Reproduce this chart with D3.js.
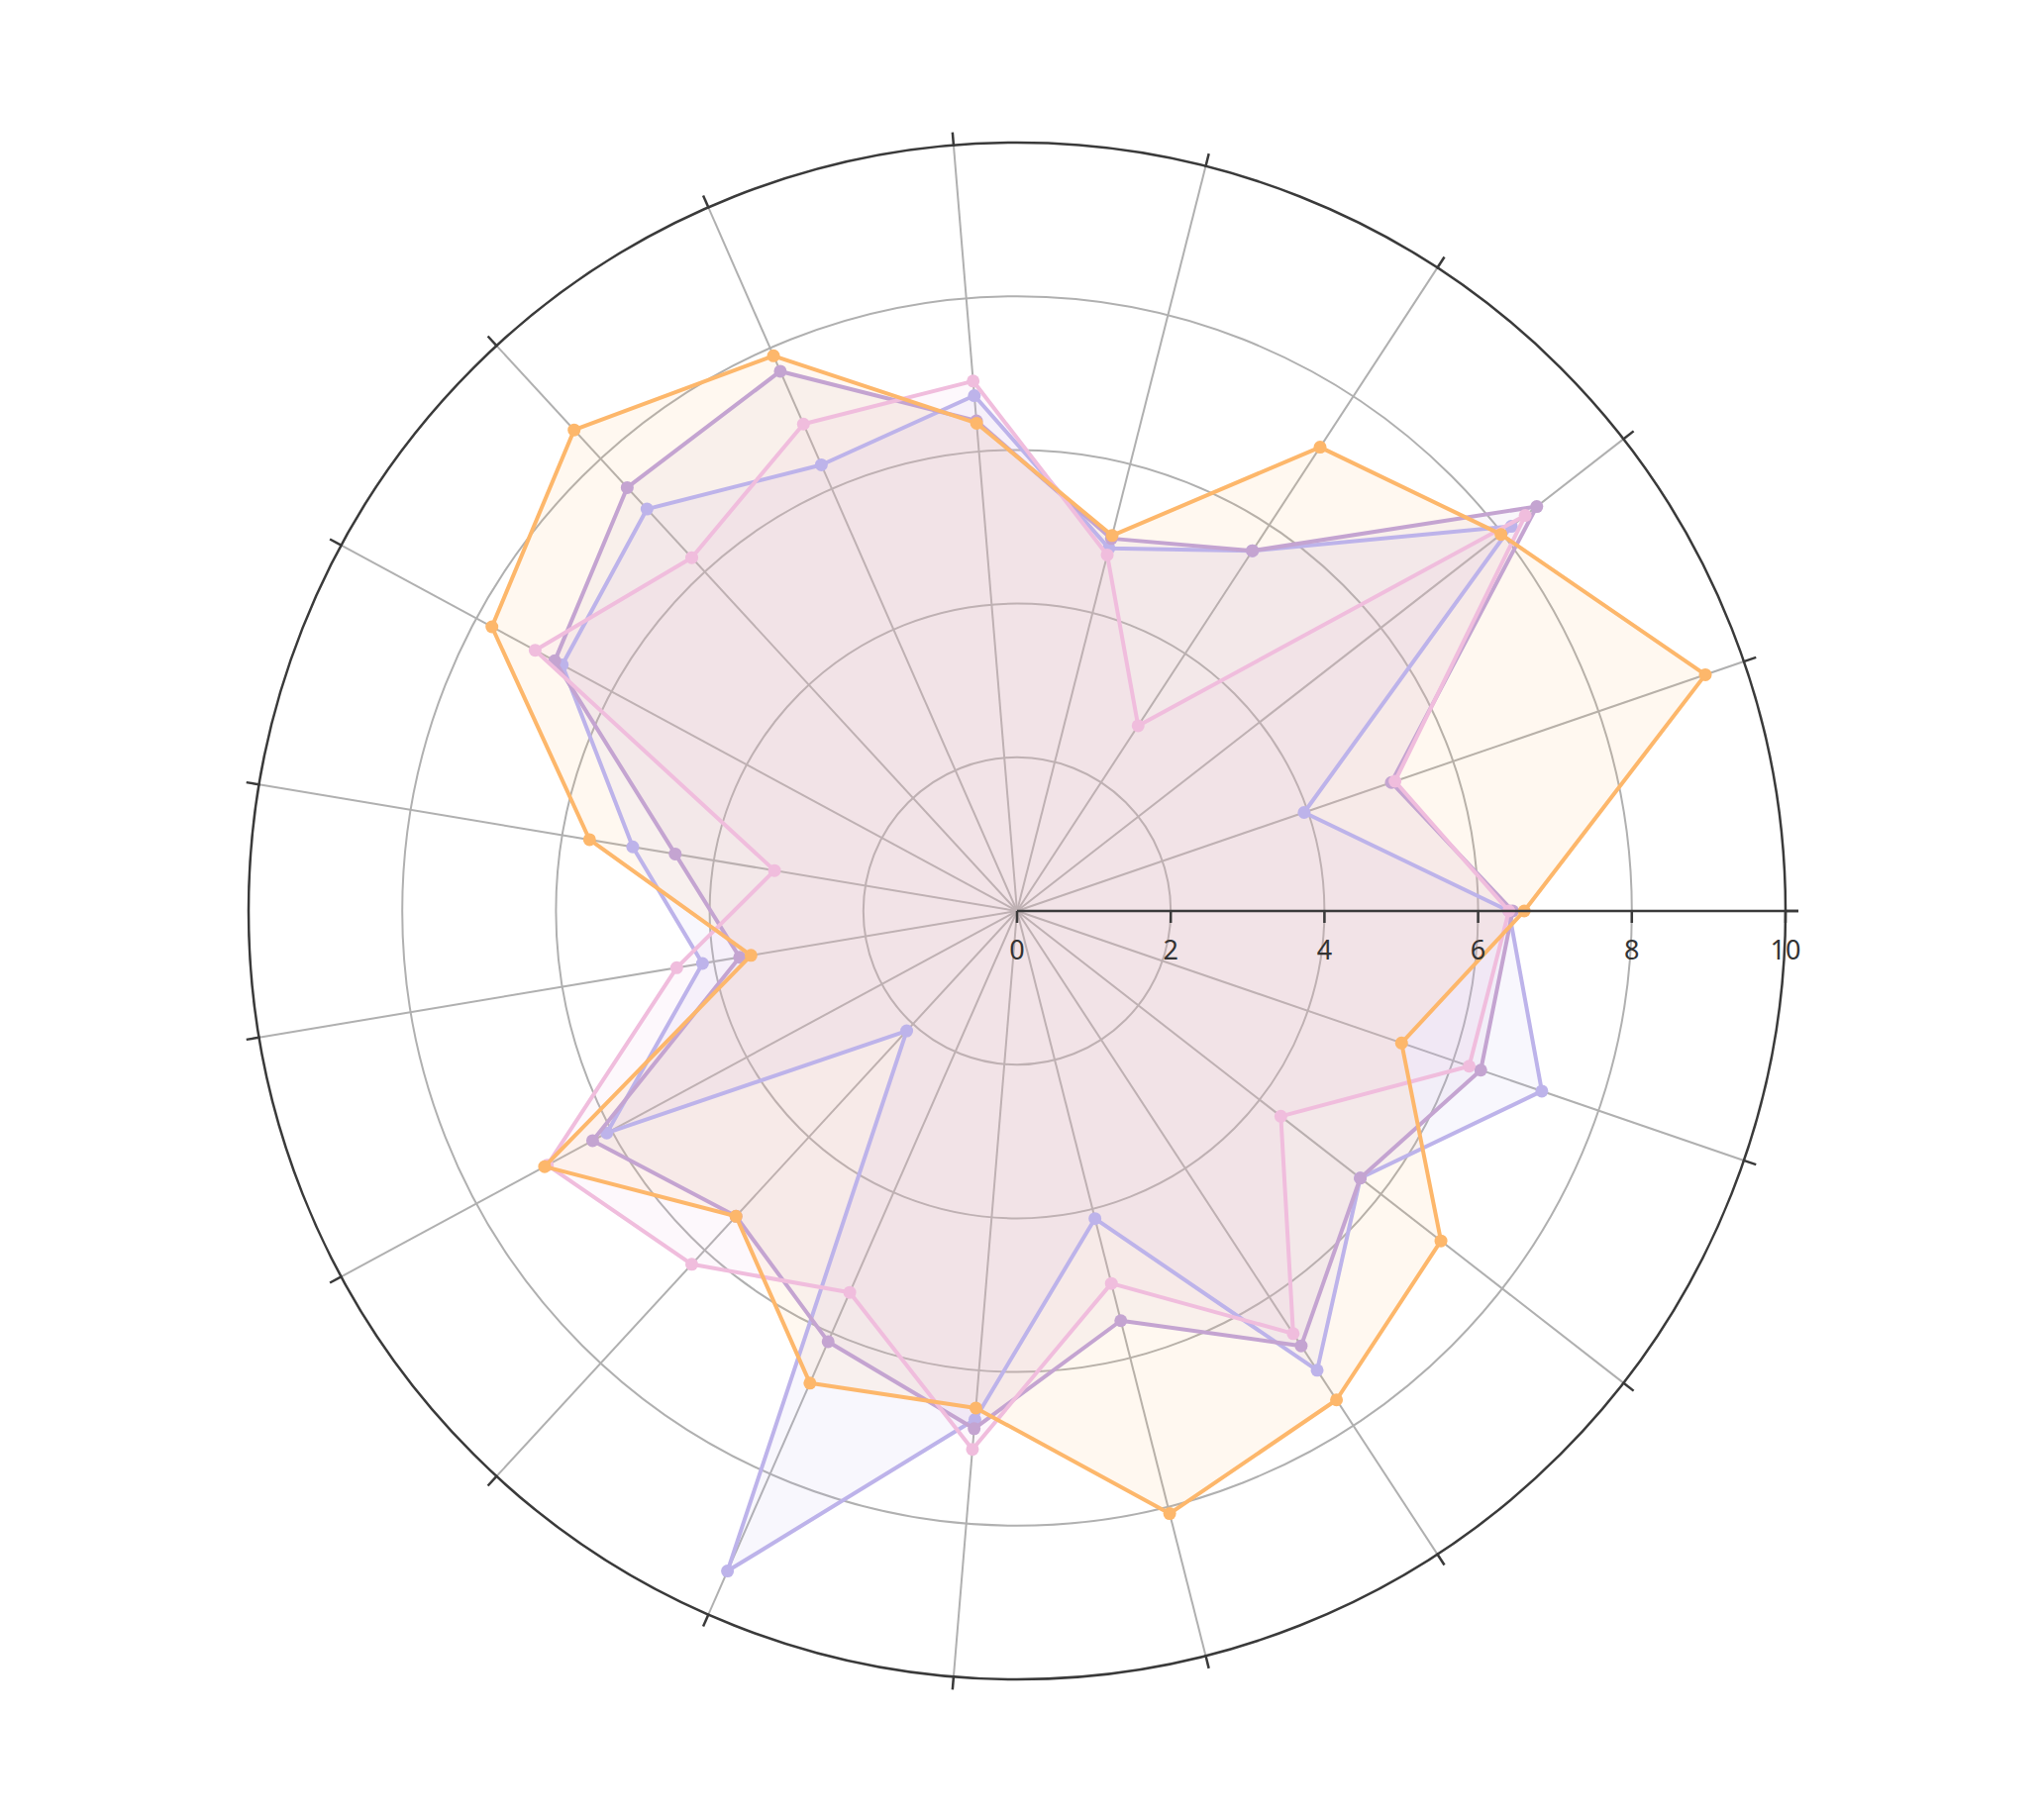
<!DOCTYPE html>
<head>
    <meta charset="UTF-8" />
    <style>
        body {
            margin: 0;
            padding: 0;
            background: #fff;
            font-family: "Noto Sans", sans-serif;
        }
        .grid {
            fill: none;
            stroke: #b0b0b0;
            stroke-width: 2px;
        }
        .axis-line {
            stroke: #3a3a3a;
            stroke-width: 2.5px;
            fill: none;
        }
        .tick-label {
            fill: #333;
            font-size: 27px;
        }
    </style>
    <title>Radar</title>
</head>

<svg width="2064" height="1836"></svg>
<script src="https://d3js.org/d3.v7.min.js"></script>

<script>
    // 19 spokes, counter-clockwise from 3 o'clock
    const categories = ["c1", "c2", "c3", "c4", "c5", "c6", "c7", "c8", "c9", "c10",
        "c11", "c12", "c13", "c14", "c15", "c16", "c17", "c18", "c19"]
    const radiusTicks = [0, 2, 4, 6, 8, 10]

    const lavender = [6.4, 3.95, 8.15, 5.6, 4.87, 6.73, 6.34, 7.11, 6.73, 5.07,
        4.15, 6.07, 2.12, 9.38, 6.64, 4.13, 7.14, 5.66, 7.22]
    const mauve = [6.45, 5.15, 8.57, 5.6, 5.0, 6.4, 7.67, 7.49, 6.84, 4.51,
        3.66, 6.28, 5.4, 6.12, 6.76, 5.5, 6.76, 5.66, 6.38]
    const pink = [6.4, 5.2, 8.38, 2.88, 4.78, 6.92, 6.92, 6.25, 7.13, 3.2,
        4.49, 6.95, 6.25, 5.42, 7.03, 5.0, 6.57, 4.35, 6.22]
    const orange = [6.6, 9.47, 7.98, 7.21, 5.04, 6.37, 7.89, 8.51, 7.77, 5.64,
        3.51, 6.99, 5.4, 6.71, 6.49, 8.09, 7.6, 6.99, 5.29]

    const seriesColors = ["#bdb3ea", "#c4a4d1", "#f0bddd", "#fdb76b"]
    const series = [lavender, mauve, pink, orange]

    const svg = d3.select("svg")
    const cx = 1027, cy = 920, R = 776

    const r = d3.scaleLinear().domain([0, 10]).range([0, R])
    // d3 radial angle: 0 = up, clockwise. Spoke 0 points right, going counter-clockwise
    const angle = d3.scaleLinear().domain([0, categories.length]).range([Math.PI / 2, Math.PI / 2 - 2 * Math.PI])

    const g = svg.append("g").attr("transform", `translate(${cx},${cy})`)

    // grid circles
    g.selectAll(".ring")
        .data(radiusTicks.filter(d => d > 0 && d < 10))
        .enter().append("circle")
        .attr("class", "grid")
        .attr("r", d => r(d))

    // spokes
    g.selectAll(".spoke")
        .data(categories)
        .enter().append("line")
        .attr("class", "grid")
        .attr("x1", 0).attr("y1", 0)
        .attr("x2", (d, i) => r(10) * Math.sin(angle(i)))
        .attr("y2", (d, i) => -r(10) * Math.cos(angle(i)))

    // series areas + lines
    const area = d3.areaRadial()
        .angle((d, i) => angle(i))
        .innerRadius(0)
        .outerRadius(d => r(d))
        .curve(d3.curveLinearClosed)

    const line = d3.lineRadial()
        .angle((d, i) => angle(i))
        .radius(d => r(d))
        .curve(d3.curveLinearClosed)

    series.forEach((values, si) => {
        g.append("path")
            .attr("d", line(values))
            .attr("fill", seriesColors[si])
            .attr("fill-opacity", 0.1)
            .attr("stroke", "none")
    })

    series.forEach((values, si) => {
        const sg = g.append("g")
        sg.append("path")
            .attr("d", line(values))
            .attr("fill", "none")
            .attr("stroke", seriesColors[si])
            .attr("stroke-width", 4)
            .attr("stroke-linejoin", "round")

        sg.selectAll("circle")
            .data(values)
            .enter().append("circle")
            .attr("cx", (d, i) => r(d) * Math.sin(angle(i)))
            .attr("cy", (d, i) => -r(d) * Math.cos(angle(i)))
            .attr("r", 6.5)
            .attr("fill", seriesColors[si])
    })

    // outer circle + angular ticks
    g.append("circle")
        .attr("class", "axis-line")
        .attr("r", r(10))

    g.selectAll(".atick")
        .data(categories)
        .enter().append("line")
        .attr("class", "axis-line")
        .attr("x1", (d, i) => (r(10) - 1) * Math.sin(angle(i)))
        .attr("y1", (d, i) => -(r(10) - 1) * Math.cos(angle(i)))
        .attr("x2", (d, i) => (r(10) + 13) * Math.sin(angle(i)))
        .attr("y2", (d, i) => -(r(10) + 13) * Math.cos(angle(i)))

    // radius axis
    g.append("line")
        .attr("class", "axis-line")
        .attr("x1", 0).attr("y1", 0)
        .attr("x2", r(10) + 13).attr("y2", 0)

    g.selectAll(".rtick")
        .data(radiusTicks)
        .enter().append("line")
        .attr("class", "axis-line")
        .attr("x1", d => r(d)).attr("x2", d => r(d))
        .attr("y1", 0).attr("y2", 12)

    g.selectAll(".rlabel")
        .data(radiusTicks)
        .enter().append("text")
        .attr("class", "tick-label")
        .attr("x", d => r(d))
        .attr("y", 49)
        .attr("text-anchor", "middle")
        .text(d => d)
</script>
